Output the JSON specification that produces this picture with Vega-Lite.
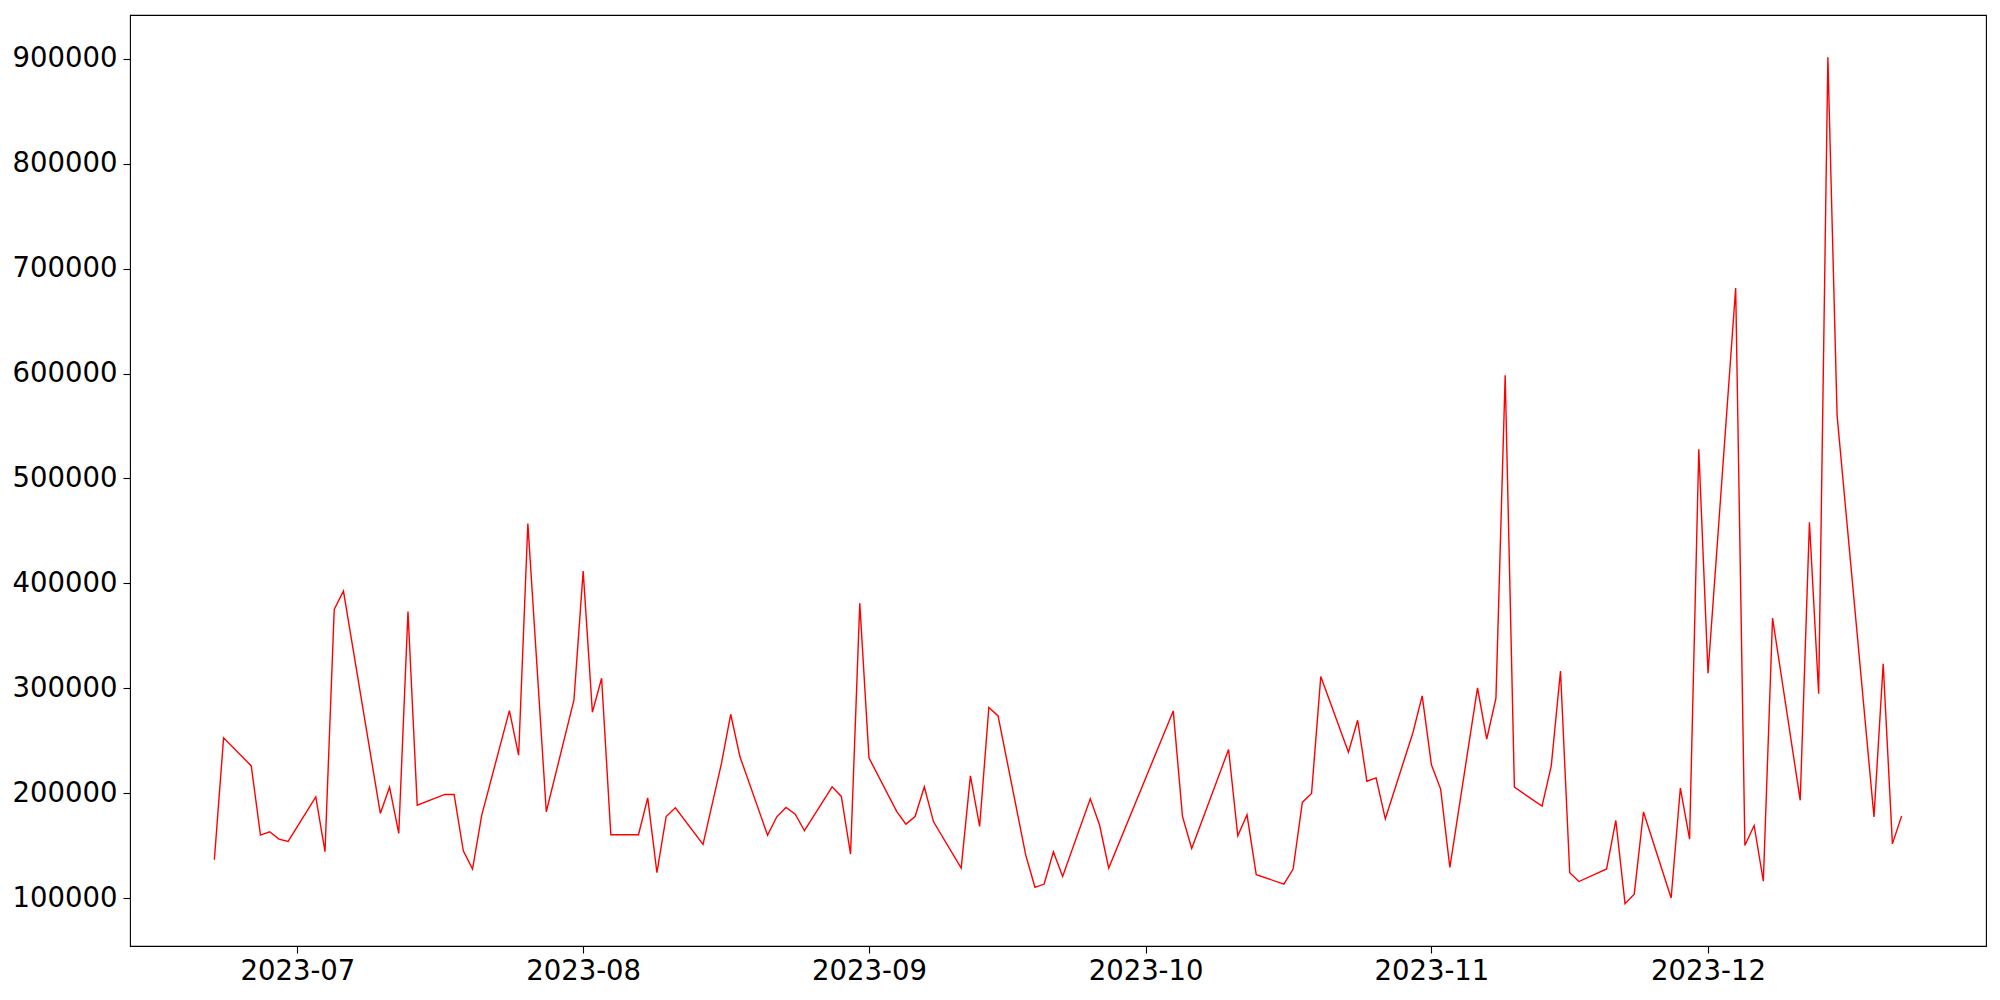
{
  "$schema": "https://vega.github.io/schema/vega-lite/v6.json",
  "width": 1856,
  "height": 931,
  "autosize": "none",
  "padding": {"left": 130, "top": 15, "right": 14, "bottom": 54},
  "background": "white",
  "config": {
    "font": "DejaVu Sans",
    "view": {"stroke": "black", "strokeWidth": 1.1},
    "axis": {
      "grid": false,
      "domain": false,
      "tickColor": "black",
      "tickWidth": 1.1,
      "tickSize": 7,
      "labelColor": "black",
      "labelFont": "DejaVu Sans",
      "labelFontSize": 27.5,
      "title": null
    }
  },
  "data": {
    "values": [
      {"date": "2023-06-22", "value": 136600},
      {"date": "2023-06-23", "value": 252800},
      {"date": "2023-06-26", "value": 226100},
      {"date": "2023-06-27", "value": 160200},
      {"date": "2023-06-28", "value": 163300},
      {"date": "2023-06-29", "value": 156300},
      {"date": "2023-06-30", "value": 154100},
      {"date": "2023-07-03", "value": 196600},
      {"date": "2023-07-04", "value": 144300},
      {"date": "2023-07-05", "value": 375200},
      {"date": "2023-07-06", "value": 392700},
      {"date": "2023-07-10", "value": 180800},
      {"date": "2023-07-11", "value": 205800},
      {"date": "2023-07-12", "value": 161700},
      {"date": "2023-07-13", "value": 373300},
      {"date": "2023-07-14", "value": 188700},
      {"date": "2023-07-17", "value": 198900},
      {"date": "2023-07-18", "value": 198900},
      {"date": "2023-07-19", "value": 145200},
      {"date": "2023-07-20", "value": 127800},
      {"date": "2023-07-21", "value": 179200},
      {"date": "2023-07-24", "value": 278800},
      {"date": "2023-07-25", "value": 236300},
      {"date": "2023-07-26", "value": 457100},
      {"date": "2023-07-28", "value": 182400},
      {"date": "2023-07-31", "value": 288900},
      {"date": "2023-08-01", "value": 411700},
      {"date": "2023-08-02", "value": 277200},
      {"date": "2023-08-03", "value": 309600},
      {"date": "2023-08-04", "value": 160500},
      {"date": "2023-08-07", "value": 160500},
      {"date": "2023-08-08", "value": 195700},
      {"date": "2023-08-09", "value": 124300},
      {"date": "2023-08-10", "value": 177900},
      {"date": "2023-08-11", "value": 186200},
      {"date": "2023-08-14", "value": 151300},
      {"date": "2023-08-16", "value": 228400},
      {"date": "2023-08-17", "value": 275300},
      {"date": "2023-08-18", "value": 235000},
      {"date": "2023-08-21", "value": 160100},
      {"date": "2023-08-22", "value": 177600},
      {"date": "2023-08-23", "value": 186500},
      {"date": "2023-08-24", "value": 180100},
      {"date": "2023-08-25", "value": 164300},
      {"date": "2023-08-28", "value": 206100},
      {"date": "2023-08-29", "value": 197000},
      {"date": "2023-08-30", "value": 142100},
      {"date": "2023-08-31", "value": 381000},
      {"date": "2023-09-01", "value": 233700},
      {"date": "2023-09-04", "value": 182700},
      {"date": "2023-09-05", "value": 170600},
      {"date": "2023-09-06", "value": 177900},
      {"date": "2023-09-07", "value": 206100},
      {"date": "2023-09-08", "value": 172800},
      {"date": "2023-09-11", "value": 128700},
      {"date": "2023-09-12", "value": 216600},
      {"date": "2023-09-13", "value": 168400},
      {"date": "2023-09-14", "value": 281700},
      {"date": "2023-09-15", "value": 273700},
      {"date": "2023-09-18", "value": 141100},
      {"date": "2023-09-19", "value": 110400},
      {"date": "2023-09-20", "value": 113500},
      {"date": "2023-09-21", "value": 144300},
      {"date": "2023-09-22", "value": 120800},
      {"date": "2023-09-25", "value": 194700},
      {"date": "2023-09-26", "value": 170000},
      {"date": "2023-09-27", "value": 128700},
      {"date": "2023-10-04", "value": 278500},
      {"date": "2023-10-05", "value": 177900},
      {"date": "2023-10-06", "value": 147400},
      {"date": "2023-10-10", "value": 241700},
      {"date": "2023-10-11", "value": 159500},
      {"date": "2023-10-12", "value": 179500},
      {"date": "2023-10-13", "value": 122400},
      {"date": "2023-10-16", "value": 113500},
      {"date": "2023-10-17", "value": 127800},
      {"date": "2023-10-18", "value": 191300},
      {"date": "2023-10-19", "value": 199800},
      {"date": "2023-10-20", "value": 311200},
      {"date": "2023-10-23", "value": 239100},
      {"date": "2023-10-24", "value": 269600},
      {"date": "2023-10-25", "value": 211500},
      {"date": "2023-10-26", "value": 214700},
      {"date": "2023-10-27", "value": 175700},
      {"date": "2023-10-30", "value": 257900},
      {"date": "2023-10-31", "value": 292800},
      {"date": "2023-11-01", "value": 227200},
      {"date": "2023-11-02", "value": 204000},
      {"date": "2023-11-03", "value": 129400},
      {"date": "2023-11-06", "value": 300500},
      {"date": "2023-11-07", "value": 251700},
      {"date": "2023-11-08", "value": 290700},
      {"date": "2023-11-09", "value": 598400},
      {"date": "2023-11-10", "value": 205800},
      {"date": "2023-11-13", "value": 187700},
      {"date": "2023-11-14", "value": 226200},
      {"date": "2023-11-15", "value": 316500},
      {"date": "2023-11-16", "value": 124300},
      {"date": "2023-11-17", "value": 115900},
      {"date": "2023-11-20", "value": 127900},
      {"date": "2023-11-21", "value": 174100},
      {"date": "2023-11-22", "value": 94800},
      {"date": "2023-11-23", "value": 103900},
      {"date": "2023-11-24", "value": 182200},
      {"date": "2023-11-27", "value": 100200},
      {"date": "2023-11-28", "value": 205000},
      {"date": "2023-11-29", "value": 156300},
      {"date": "2023-11-30", "value": 527800},
      {"date": "2023-12-01", "value": 314500},
      {"date": "2023-12-04", "value": 681500},
      {"date": "2023-12-05", "value": 150200},
      {"date": "2023-12-06", "value": 169300},
      {"date": "2023-12-07", "value": 116300},
      {"date": "2023-12-08", "value": 367000},
      {"date": "2023-12-11", "value": 193300},
      {"date": "2023-12-12", "value": 458200},
      {"date": "2023-12-13", "value": 294900},
      {"date": "2023-12-14", "value": 901300},
      {"date": "2023-12-15", "value": 559900},
      {"date": "2023-12-19", "value": 177500},
      {"date": "2023-12-20", "value": 323300},
      {"date": "2023-12-21", "value": 151800},
      {"date": "2023-12-22", "value": 178500}
    ]
  },
  "mark": {"type": "line", "color": "#ff0000", "strokeWidth": 1.4, "clip": true},
  "encoding": {
    "x": {
      "field": "date",
      "type": "temporal",
      "scale": {
        "type": "utc",
        "domain": [
          {"year": 2023, "month": 6, "date": 12, "hours": 20, "minutes": 24, "utc": true},
          {"year": 2023, "month": 12, "date": 31, "hours": 3, "minutes": 36, "utc": true}
        ]
      },
      "axis": {
        "values": [
          {"year": 2023, "month": 7, "date": 1, "utc": true},
          {"year": 2023, "month": 8, "date": 1, "utc": true},
          {"year": 2023, "month": 9, "date": 1, "utc": true},
          {"year": 2023, "month": 10, "date": 1, "utc": true},
          {"year": 2023, "month": 11, "date": 1, "utc": true},
          {"year": 2023, "month": 12, "date": 1, "utc": true}
        ],
        "labelExpr": "utcFormat(datum.value, '%Y-%m')",
        "labelPadding": 4,
        "labelFlush": false,
        "labelOverlap": false
      }
    },
    "y": {
      "field": "value",
      "type": "quantitative",
      "scale": {"domain": [54475, 941625], "nice": false, "zero": false},
      "axis": {
        "values": [100000, 200000, 300000, 400000, 500000, 600000, 700000, 800000, 900000],
        "format": "d",
        "labelPadding": 6,
        "labelFlush": false,
        "labelOverlap": false
      }
    }
  }
}
